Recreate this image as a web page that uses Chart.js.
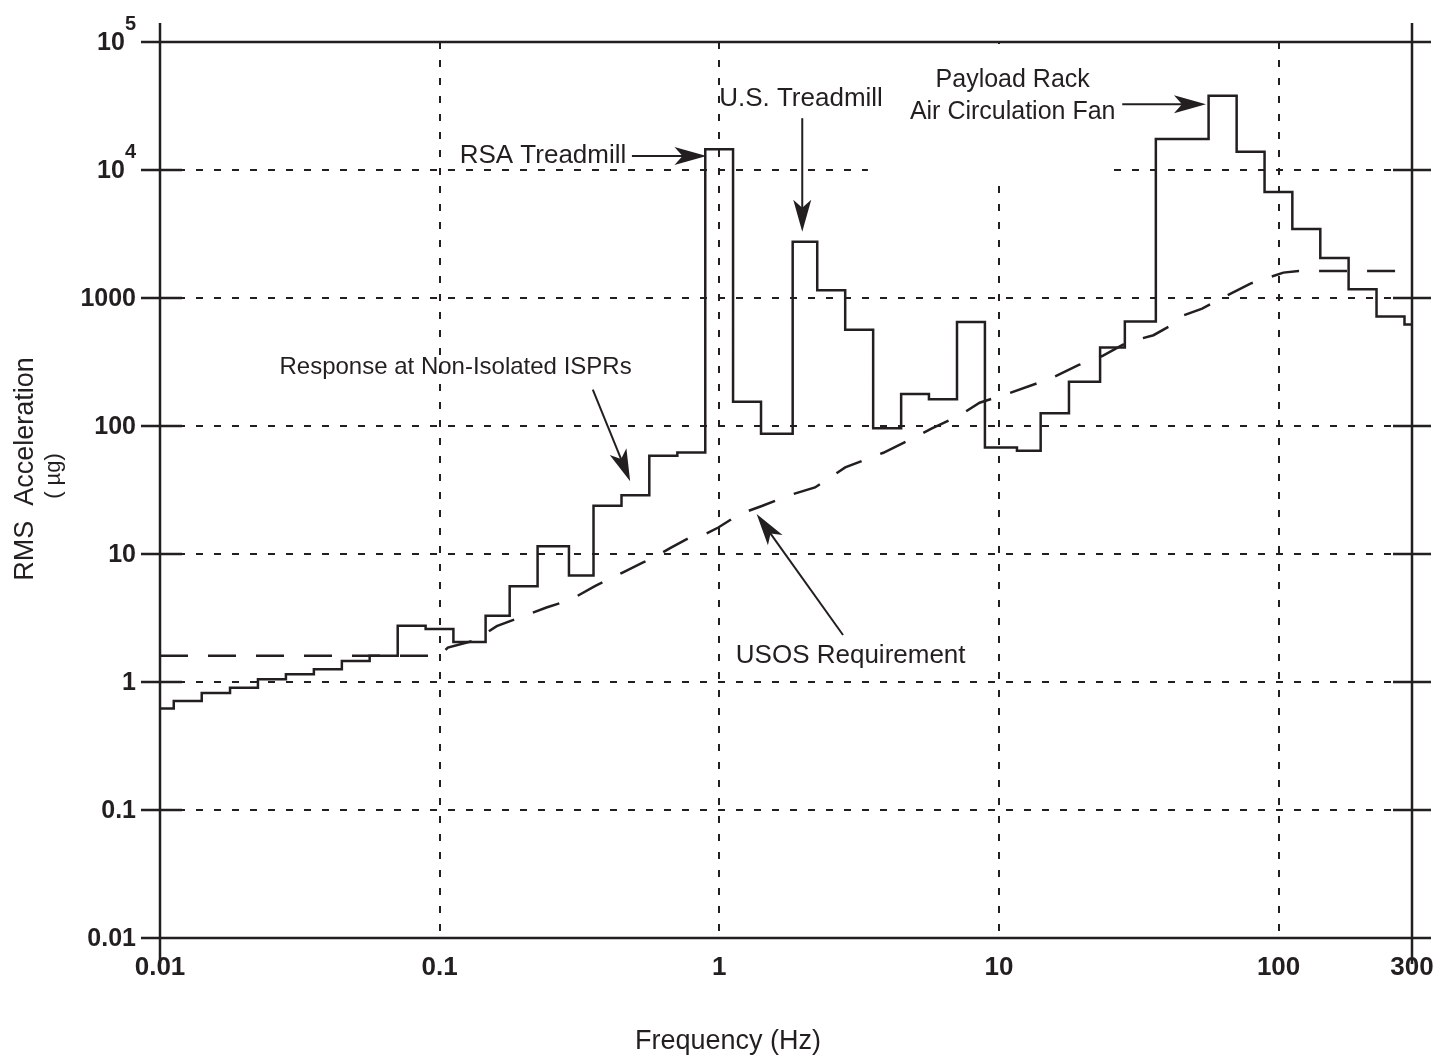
<!DOCTYPE html>
<html>
<head>
<meta charset="utf-8">
<title>RMS Acceleration vs Frequency</title>
<script src="https://cdn.jsdelivr.net/npm/chart.js@4.4.0/dist/chart.umd.min.js"></script>
<style>
  html, body { margin: 0; padding: 0; background: #fff; }
  #wrap { width: 1442px; height: 1058px; }
</style>
</head>
<body>
<div id="wrap"><canvas id="accelChart" width="1442" height="1058"></canvas></div>
<script>
// one-third octave band edges (Hz)
const bandEdges = [0.01, 0.0112, 0.0141, 0.0178, 0.0224, 0.0282, 0.0355, 0.0447, 0.0562, 0.0708,
    0.0891, 0.112, 0.146, 0.178, 0.224, 0.29, 0.355, 0.447, 0.562, 0.708,
    0.891, 1.12, 1.41, 1.83, 2.24, 2.82, 3.55, 4.47, 5.62, 7.08,
    8.91, 11.6, 14.1, 17.8, 23.0, 28.2, 36.4, 44.7, 56.2, 70.8,
    89.1, 112, 141, 178, 224, 282, 300];

// response at non-isolated ISPRs, one value per band (micro-g)
const responseLevels = [0.62, 0.71, 0.82, 0.90, 1.05, 1.15, 1.26, 1.46, 1.60, 2.75,
    2.6, 2.05, 3.3, 5.6, 11.5, 6.8, 23.8, 28.8, 58.5, 62,
    14500, 155, 87, 2750, 1150, 564, 96, 178, 162, 649,
    68, 64, 126, 222, 410, 656, 17500, 17500, 38000, 13900,
    6740, 3460, 2050, 1170, 717, 621];

// USOS requirement curve
const requirementFreq = [0.01, 0.1, 0.107, 0.134, 0.16, 0.199, 0.241, 0.295, 0.359, 0.451,
    0.534, 0.575, 0.667, 0.812, 0.901, 0.992, 1.18, 1.42, 1.77, 2.2,
    2.82, 3.26, 3.86, 4.82, 5.76, 7.23, 8.53, 10.7, 15.3, 19.3,
    23.4, 28.7, 35.7, 43.4, 45.8, 53.3, 62.9, 79.3, 93.5, 104,
    118, 280];
const requirementLevel = [1.6, 1.6, 1.86, 2.12, 2.73, 3.27, 3.82, 4.41, 5.61, 7.15,
    8.59, 9.2, 11.1, 14.0, 14.5, 16.1, 20.5, 23.7, 28.7, 33.1,
    47.5, 53.6, 61.8, 78.5, 95.8, 121, 152, 178, 235, 300,
    352, 449, 512, 649, 733, 826, 1000, 1296, 1459, 1579,
    1626, 1626];

const freqTicks = [0.01, 0.1, 1, 10, 100, 300];
const freqTickLabels = ['0.01', '0.1', '1', '10', '100', '300'];
const accelTicks = [0.01, 0.1, 1, 10, 100, 1000, 10000, 100000];
const accelTickLabels = ['0.01', '0.1', '1', '10', '100', '1000', '10|4', '10|5'];

// callouts: text lines and arrow tail/head in data units
const callouts = [
    { lines: ['RSA Treadmill'], size: 26, at: [0.465, 12850], align: 'right', from: [0.487, 12850], to: [0.9, 12850] },
    { lines: ['U.S. Treadmill'], size: 26, at: [1.96, 35700], align: 'center', from: [1.98, 25400], to: [1.98, 3300] },
    { lines: ['Payload Rack', 'Air Circulation Fan'], size: 25, at: [11.2, 50000], align: 'center', from: [27.6, 32700], to: [55, 32700] },
    { lines: ['Response at Non-Isolated ISPRs'], size: 24, at: [0.114, 285], align: 'center', from: [0.353, 192], to: [0.48, 37] },
    { lines: ['USOS Requirement'], size: 26, at: [2.95, 1.6], align: 'center', from: [2.77, 2.33], to: [1.36, 20.5] }
];

const ink = '#231f20';
const face = '"Liberation Sans", Arial, sans-serif';

const stepPoints = [];
responseLevels.forEach(function (v, i) {
    stepPoints.push({ x: bandEdges[i], y: v });
    stepPoints.push({ x: bandEdges[i + 1], y: v });
});
const reqPoints = requirementFreq.map(function (f, i) {
    return { x: f, y: requirementLevel[i] };
});

function drawArrow(ctx, x1, y1, x2, y2) {
    const a = Math.atan2(y2 - y1, x2 - x1);
    const len = 32, half = 9;
    const c = Math.cos(a), s = Math.sin(a);
    ctx.beginPath();
    ctx.moveTo(x1, y1);
    ctx.lineTo(x2 - c * len * 0.7, y2 - s * len * 0.7);
    ctx.stroke();
    ctx.beginPath();
    ctx.moveTo(x2, y2);
    ctx.lineTo(x2 - c * len + s * half, y2 - s * len - c * half);
    ctx.lineTo(x2 - c * len * 0.75, y2 - s * len * 0.75);
    ctx.lineTo(x2 - c * len - s * half, y2 - s * len + c * half);
    ctx.closePath();
    ctx.fill();
}

const framePlugin = {
    id: 'frame',
    beforeDatasetsDraw(chart) {
        // the blank patch behind the fan label where the grid is left out
        const { ctx, scales: { x, y } } = chart;
        const x1 = x.getPixelForValue(3.4), x2 = x.getPixelForValue(25.6);
        const y1 = y.getPixelForValue(100000) + 2, y2 = y.getPixelForValue(7500);
        ctx.save();
        ctx.fillStyle = '#fff';
        ctx.fillRect(x1, y1, x2 - x1, y2 - y1);
        ctx.restore();
    },
    afterDraw(chart) {
        const { ctx, chartArea: area, scales: { x, y } } = chart;
        ctx.save();
        ctx.strokeStyle = ink;
        ctx.fillStyle = ink;
        ctx.lineWidth = 2.5;
        ctx.setLineDash([]);

        // frame
        ctx.beginPath();
        ctx.moveTo(area.left, area.top - 19);
        ctx.lineTo(area.left, area.bottom + 26);
        ctx.moveTo(area.right, area.top - 19);
        ctx.lineTo(area.right, area.bottom + 26);
        ctx.stroke();

        // y ticks, both sides
        accelTicks.forEach(function (v) {
            const py = y.getPixelForValue(v);
            ctx.beginPath();
            if (v === 100000 || v === 0.01) {
                ctx.moveTo(area.left - 19, py);
                ctx.lineTo(area.right + 19, py);
            } else {
                ctx.moveTo(area.left - 19, py);
                ctx.lineTo(area.left + 22, py);
                ctx.moveTo(area.right - 19, py);
                ctx.lineTo(area.right + 19, py);
            }
            ctx.stroke();
        });

        // y tick labels
        ctx.textBaseline = 'middle';
        ctx.textAlign = 'right';
        accelTicks.forEach(function (v, i) {
            const py = y.getPixelForValue(v);
            const lab = accelTickLabels[i];
            const rx = area.left - 24;
            if (lab.indexOf('|') >= 0) {
                const parts = lab.split('|');
                ctx.font = 'bold 20px ' + face;
                const ew = ctx.measureText(parts[1]).width;
                ctx.fillText(parts[1], rx, py - 18);
                ctx.font = 'bold 25px ' + face;
                ctx.fillText(parts[0], rx - ew, py + 1);
            } else {
                ctx.font = 'bold 25px ' + face;
                ctx.fillText(lab, rx, py + 1);
            }
        });

        // x tick labels
        ctx.font = 'bold 26px ' + face;
        ctx.textAlign = 'center';
        freqTicks.forEach(function (v, i) {
            ctx.fillText(freqTickLabels[i], x.getPixelForValue(v), area.bottom + 30);
        });

        // axis titles
        ctx.font = '27px ' + face;
        ctx.fillText('Frequency (Hz)', 728, area.bottom + 104);
        ctx.save();
        ctx.translate(26, 469);
        ctx.rotate(-Math.PI / 2);
        ctx.fillText('RMS  Acceleration', 0, 0);
        ctx.restore();
        ctx.save();
        ctx.translate(54, 476);
        ctx.rotate(-Math.PI / 2);
        ctx.font = '22px ' + face;
        ctx.fillText('( \u00b5g)', 0, 0);
        ctx.restore();

        // callouts
        ctx.lineWidth = 2;
        callouts.forEach(function (c) {
            const tx = x.getPixelForValue(c.at[0]);
            const ty = y.getPixelForValue(c.at[1]);
            ctx.font = c.size + 'px ' + face;
            ctx.textAlign = c.align;
            c.lines.forEach(function (line, k) {
                ctx.fillText(line, tx, ty + k * 32);
            });
            drawArrow(ctx,
                x.getPixelForValue(c.from[0]), y.getPixelForValue(c.from[1]),
                x.getPixelForValue(c.to[0]), y.getPixelForValue(c.to[1]));
        });
        ctx.restore();
    }
};

function gridColor(ends) {
    return function (context) {
        const v = context.tick && context.tick.value;
        return ends.indexOf(v) >= 0 ? 'rgba(0,0,0,0)' : ink;
    };
}

const ctx = document.getElementById('accelChart').getContext('2d');
new Chart(ctx, {
    type: 'scatter',
    data: {
        datasets: [{
            label: 'Response at Non-Isolated ISPRs',
            data: stepPoints,
            showLine: true,
            borderColor: ink,
            borderWidth: 2.5,
            pointRadius: 0,
            fill: false,
            tension: 0
        }, {
            label: 'USOS Requirement',
            data: reqPoints,
            showLine: true,
            borderColor: ink,
            borderWidth: 2.5,
            borderDash: [28, 20],
            pointRadius: 0,
            fill: false,
            tension: 0
        }]
    },
    options: {
        responsive: false,
        animation: false,
        devicePixelRatio: 1,
        layout: { padding: { left: 160, right: 30, top: 42, bottom: 120 } },
        plugins: {
            legend: { display: false },
            tooltip: { enabled: false }
        },
        scales: {
            x: {
                type: 'logarithmic',
                min: 0.01,
                max: 300,
                afterBuildTicks: function (scale) {
                    scale.ticks = freqTicks.map(function (v) { return { value: v }; });
                },
                ticks: { display: false },
                grid: { color: gridColor([0.01, 300]), lineWidth: 2, drawTicks: false },
                border: { display: false, dash: [7, 11] }
            },
            y: {
                type: 'logarithmic',
                min: 0.01,
                max: 100000,
                afterBuildTicks: function (scale) {
                    scale.ticks = accelTicks.map(function (v) { return { value: v }; });
                },
                ticks: { display: false },
                grid: { color: gridColor([0.01, 100000]), lineWidth: 2, drawTicks: false },
                border: { display: false, dash: [7, 11] }
            }
        }
    },
    plugins: [framePlugin]
});
</script>
</body>
</html>
